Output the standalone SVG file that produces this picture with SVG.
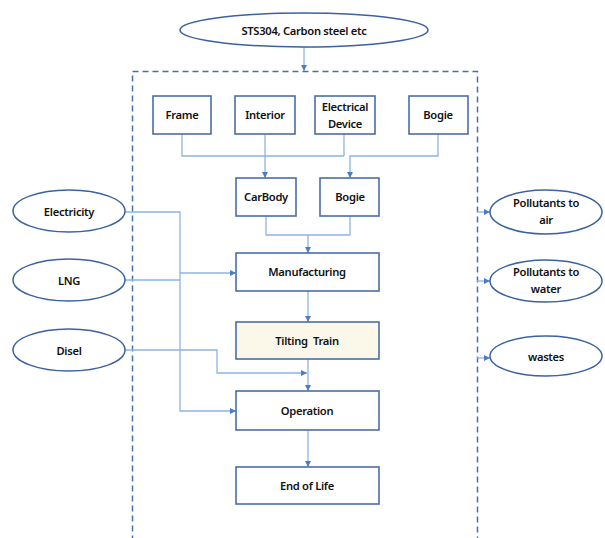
<svg xmlns="http://www.w3.org/2000/svg" width="605" height="538" viewBox="0 0 605 538">
<defs>
<style>
.ell{fill:#fff;stroke:#3A62A0;stroke-width:1.5}
.box{fill:#fff;stroke:#4A6FA5;stroke-width:1.6}
.t{font-family:"Noto Sans","Liberation Sans",sans-serif;font-weight:600;font-size:11.2px;letter-spacing:-0.3px;fill:#111;text-anchor:middle}
.c{fill:none;stroke:#8CB4E2;stroke-width:1.3}
.dash{fill:none;stroke:#4A6FA5;stroke-width:1.5;stroke-dasharray:6 4}
</style>
<marker id="ah" markerUnits="userSpaceOnUse" markerWidth="7" markerHeight="7" refX="6" refY="3.5" orient="auto">
<path d="M0,0.5 L6,3.5 L0,6.5 z" fill="#4A7CC8"/>
</marker>
</defs>
<rect width="605" height="538" fill="#fff"/>
<rect class="dash" x="132.5" y="71.5" width="345" height="480"/>
<g id="connectors">
<path class="c" d="M304,47 V71" marker-end="url(#ah)"/>
<path class="c" d="M182,134 V156 H344 M344,134 V156"/>
<path class="c" d="M265,134 V178" marker-end="url(#ah)"/>
<path class="c" d="M438,134 V156 H350 V178" marker-end="url(#ah)"/>
<path class="c" d="M266,216 V235 H350 M350,216 V235"/>
<path class="c" d="M308,235 V253" marker-end="url(#ah)"/>
<path class="c" d="M308,291 V322" marker-end="url(#ah)"/>
<path class="c" d="M308,359 V391" marker-end="url(#ah)"/>
<path class="c" d="M308,430 V467" marker-end="url(#ah)"/>
<path class="c" d="M125,212 H180 V411 H236" marker-end="url(#ah)"/>
<path class="c" d="M180,273 H236" marker-end="url(#ah)"/>
<path class="c" d="M125,280 H180"/>
<path class="c" d="M125,350 H217 V373 H307" marker-end="url(#ah)"/>
<path class="c" d="M477,212 H490" marker-end="url(#ah)"/>
<path class="c" d="M477,281 H490" marker-end="url(#ah)"/>
<path class="c" d="M477,358 H490" marker-end="url(#ah)"/>
</g>
<g id="sts"><ellipse class="ell" cx="304" cy="30" rx="124" ry="17"/><text class="t" x="304" y="35">STS304, Carbon steel etc</text></g>
<g id="frame"><rect class="box" x="153" y="96" width="58" height="38"/><text class="t" x="182" y="119">Frame</text></g>
<g id="interior"><rect class="box" x="235" y="96" width="60" height="38"/><text class="t" x="265" y="119">Interior</text></g>
<g id="electrical"><rect class="box" x="315" y="96" width="60" height="38"/><text class="t" x="345" y="111">Electrical</text><text class="t" x="345" y="128">Device</text></g>
<g id="bogie1"><rect class="box" x="409" y="96" width="59" height="38"/><text class="t" x="438" y="119">Bogie</text></g>
<g id="carbody"><rect class="box" x="236" y="178" width="60" height="38"/><text class="t" x="266" y="201">CarBody</text></g>
<g id="bogie2"><rect class="box" x="320" y="178" width="59" height="38"/><text class="t" x="350" y="201">Bogie</text></g>
<g id="manufacturing"><rect class="box" x="236" y="253" width="143" height="38"/><text class="t" x="307" y="276">Manufacturing</text></g>
<g id="tilting"><rect class="box" x="236" y="322" width="143" height="37" style="fill:#FBF8EA"/><text class="t" x="307" y="345" style="white-space:pre">Tilting  Train</text></g>
<g id="operation"><rect class="box" x="236" y="391" width="143" height="39"/><text class="t" x="307" y="415">Operation</text></g>
<g id="eol"><rect class="box" x="236" y="467" width="143" height="37"/><text class="t" x="307" y="490">End of Life</text></g>
<g id="electricity"><ellipse class="ell" cx="69" cy="211" rx="56" ry="21"/><text class="t" x="69" y="216">Electricity</text></g>
<g id="lng"><ellipse class="ell" cx="69" cy="280" rx="56" ry="21"/><text class="t" x="69" y="285">LNG</text></g>
<g id="disel"><ellipse class="ell" cx="69" cy="350" rx="56" ry="21"/><text class="t" x="69" y="355">Disel</text></g>
<g id="air"><ellipse class="ell" cx="546" cy="212" rx="56" ry="22"/><text class="t" x="546" y="207">Pollutants to</text><text class="t" x="546" y="224">air</text></g>
<g id="water"><ellipse class="ell" cx="546" cy="281" rx="56" ry="21"/><text class="t" x="546" y="276">Pollutants to</text><text class="t" x="546" y="293">water</text></g>
<g id="wastes"><ellipse class="ell" cx="546" cy="356" rx="56" ry="20"/><text class="t" x="546" y="361">wastes</text></g>
</svg>
